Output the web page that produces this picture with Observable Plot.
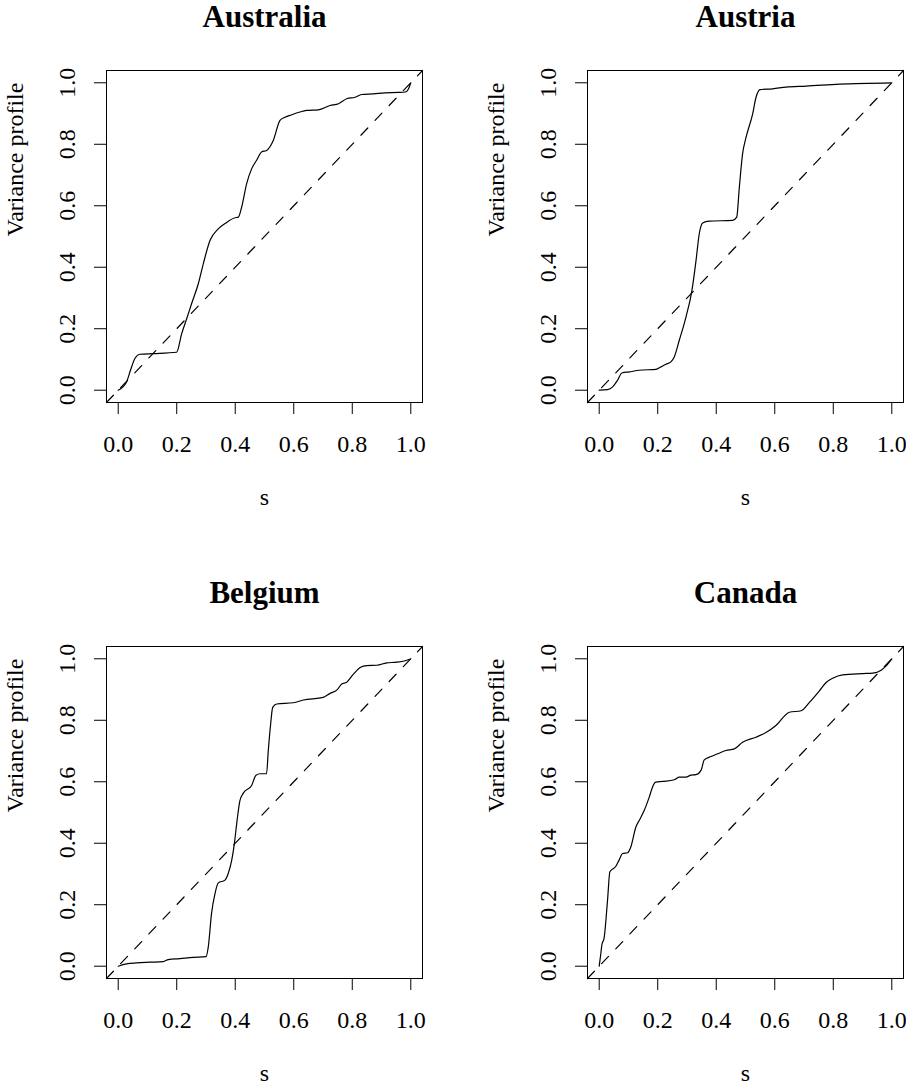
<!DOCTYPE html>
<html><head><meta charset="utf-8">
<script src="https://cdn.jsdelivr.net/npm/d3@7"></script>
<script src="https://cdn.jsdelivr.net/npm/@observablehq/plot@0.6"></script>
<style>
html,body{margin:0;padding:0;background:#fff;}
#chart{position:relative;width:906px;height:1085px;overflow:hidden;background:#fff;}
.panel{position:absolute;}
</style></head><body><div id="chart"></div>
<script>
// ---- data ----
const countries = ["Australia", "Austria", "Belgium", "Canada"];

const australiaS = [0, 0.0285, 0.042, 0.057, 0.074, 0.120, 0.1995, 0.217, 0.236, 0.251, 0.274, 0.291, 0.314, 0.342, 0.365, 0.399, 0.4105, 0.422, 0.439, 0.456, 0.473, 0.490, 0.507, 0.530, 0.553, 0.570, 0.587, 0.621, 0.644, 0.684, 0.724, 0.753, 0.781, 0.810, 0.832, 0.872, 0.912, 0.958, 0.981, 0.992, 1.0];
const australiaV = [0, 0.027, 0.065, 0.103, 0.117, 0.119, 0.1235, 0.184, 0.238, 0.282, 0.347, 0.412, 0.4875, 0.525, 0.542, 0.561, 0.563, 0.596, 0.672, 0.720, 0.748, 0.775, 0.780, 0.8126, 0.8776, 0.888, 0.894, 0.905, 0.910, 0.912, 0.926, 0.932, 0.948, 0.953, 0.962, 0.964, 0.9675, 0.9686, 0.970, 0.980, 1.0];

const austriaS = [0, 0.0285, 0.046, 0.0627, 0.0775, 0.1026, 0.137, 0.194, 0.211, 0.228, 0.245, 0.2565, 0.2737, 0.2965, 0.317, 0.331, 0.342, 0.3535, 0.376, 0.456, 0.470, 0.479, 0.490, 0.502, 0.5245, 0.536, 0.5496, 0.593, 0.6385, 0.707, 0.821, 1.0];
const austriaV = [0, 0.002, 0.011, 0.0325, 0.056, 0.0596, 0.065, 0.068, 0.076, 0.0845, 0.092, 0.108, 0.1625, 0.238, 0.325, 0.4225, 0.509, 0.544, 0.550, 0.5525, 0.563, 0.661, 0.769, 0.823, 0.899, 0.953, 0.978, 0.9805, 0.986, 0.989, 0.9957, 1.0];

const belgiumS = [0, 0.0285, 0.0627, 0.108, 0.154, 0.171, 0.211, 0.2566, 0.300, 0.308, 0.319, 0.331, 0.342, 0.365, 0.376, 0.388, 0.397, 0.405, 0.416, 0.4276, 0.456, 0.471, 0.4846, 0.507, 0.513, 0.521, 0.528, 0.5416, 0.5986, 0.633, 0.701, 0.724, 0.747, 0.764, 0.781, 0.804, 0.827, 0.8495, 0.884, 0.918, 0.952, 0.9806, 1.0];
const belgiumV = [0, 0.0076, 0.0108, 0.013, 0.015, 0.0216, 0.0249, 0.029, 0.031, 0.0638, 0.172, 0.237, 0.271, 0.280, 0.3016, 0.345, 0.399, 0.464, 0.539, 0.563, 0.588, 0.621, 0.626, 0.626, 0.702, 0.788, 0.842, 0.853, 0.857, 0.866, 0.8746, 0.8876, 0.898, 0.918, 0.924, 0.950, 0.972, 0.978, 0.979, 0.987, 0.989, 0.9935, 1.0];

const canadaS = [0, 0.0057, 0.009, 0.017, 0.0285, 0.0365, 0.057, 0.068, 0.080, 0.097, 0.108, 0.1254, 0.137, 0.154, 0.171, 0.1824, 0.1916, 0.2167, 0.2566, 0.274, 0.2965, 0.3136, 0.3307, 0.348, 0.359, 0.382, 0.405, 0.433, 0.462, 0.490, 0.536, 0.570, 0.604, 0.650, 0.690, 0.7184, 0.7526, 0.7754, 0.798, 0.832, 0.901, 0.935, 0.9635, 0.9806, 1.0];
const canadaV = [0, 0.042, 0.069, 0.093, 0.215, 0.307, 0.325, 0.345, 0.3665, 0.369, 0.388, 0.453, 0.4746, 0.507, 0.550, 0.583, 0.598, 0.601, 0.6065, 0.615, 0.615, 0.6216, 0.623, 0.637, 0.671, 0.682, 0.691, 0.7016, 0.707, 0.7286, 0.745, 0.760, 0.783, 0.826, 0.831, 0.858, 0.896, 0.923, 0.937, 0.948, 0.952, 0.9535, 0.963, 0.977, 1.0];

const xTicks = [0, 0.2, 0.4, 0.6, 0.8, 1.0];
const yTicks = [0, 0.2, 0.4, 0.6, 0.8, 1.0];
const xLabel = "s";
const yLabel = "Variance profile";
const dataRange = [0, 1];

// ---- drawing ----
const FONT = "'Liberation Serif', 'Times New Roman', serif";
const ext = (dataRange[1] - dataRange[0]) * 0.04;
const domain = [dataRange[0] - ext, dataRange[1] + ext];

const series = [
  [australiaS, australiaV],
  [austriaS, austriaV],
  [belgiumS, belgiumV],
  [canadaS, canadaV]
];
const positions = [[0, 0], [481, 0], [0, 576], [481, 576]];

function panel(title, S, V) {
  const rows = S.map((s, i) => ({s, v: V[i]}));
  const diag = domain.map(d => ({s: d, v: d}));
  return Plot.plot({
    width: 442, height: 510,
    marginLeft: 106, marginRight: 20, marginTop: 70, marginBottom: 108,
    x: {domain, label: null},
    y: {domain, label: null},
    style: {fontFamily: FONT, fontSize: "24px", background: "white", color: "black", overflow: "visible"},
    marks: [
      Plot.line(diag, {x: "s", y: "v", stroke: "black", strokeWidth: 1.2, strokeDasharray: "10,10.5"}),
      Plot.line(rows, {x: "s", y: "v", stroke: "black", strokeWidth: 1.2, curve: "monotone-x"}),
      Plot.frame({stroke: "black", strokeWidth: 1}),
      Plot.axisX({ticks: xTicks, tickSize: 12, tickPadding: 20, tickFormat: d3.format(".1f"), fontSize: 24, fontFamily: FONT, label: null}),
      Plot.axisY({ticks: yTicks, tickSize: 12, tickPadding: 20, tickRotate: -90, tickFormat: d3.format(".1f"), fontSize: 24, fontFamily: FONT, label: null}),
      Plot.text([title], {text: d => d, frameAnchor: "top", dy: -44, lineAnchor: "bottom", fontWeight: "bold", fontSize: 31, fontFamily: FONT}),
      Plot.text([xLabel], {text: d => d, frameAnchor: "bottom", dy: 102, lineAnchor: "bottom", fontSize: 24, fontFamily: FONT}),
      Plot.text([yLabel], {text: d => d, frameAnchor: "left", dx: -84, rotate: -90, lineAnchor: "bottom", fontSize: 24, fontFamily: FONT})
    ]
  });
}

const chart = document.getElementById("chart");
countries.forEach((c, i) => {
  const el = panel(c, series[i][0], series[i][1]);
  el.classList.add("panel");
  el.style.left = positions[i][0] + "px";
  el.style.top = positions[i][1] + "px";
  chart.appendChild(el);
});
</script>
</body></html>
